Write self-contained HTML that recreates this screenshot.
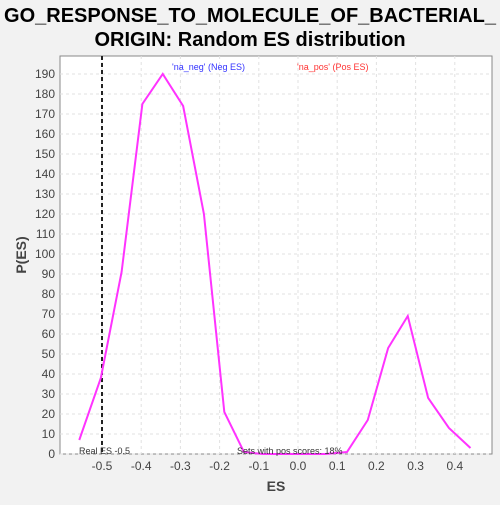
<!DOCTYPE html>
<html><head><meta charset="utf-8"><style>
body{margin:0;background:#f2f2f2;font-family:"Liberation Sans","DejaVu Sans",sans-serif}
</style></head><body>
<svg width="500" height="500" xmlns="http://www.w3.org/2000/svg">
<rect width="500" height="500" fill="#f2f2f2"/>
<text x="250" y="22" text-anchor="middle" font-size="20" font-weight="bold" fill="#000">GO_RESPONSE_TO_MOLECULE_OF_BACTERIAL_</text>
<text x="250" y="46" text-anchor="middle" font-size="20" font-weight="bold" fill="#000">ORIGIN: Random ES distribution</text>
<rect x="60" y="56" width="432" height="398" fill="#fff" stroke="#888"/>
<g id="grid"></g><g id="ticks"></g>
<line x1="102" y1="56" x2="102" y2="454" stroke="#222" stroke-width="2" stroke-dasharray="4,3"/>
<polyline id="curve" fill="none" stroke="#ff33ff" stroke-width="2"/>
<text x="172" y="70" font-size="9" fill="#3333ff">'na_neg' (Neg ES)</text>
<text x="297" y="70" font-size="9" fill="#ff3333">'na_pos' (Pos ES)</text>
<text x="79" y="454" font-size="9" fill="#333">Real ES -0.5</text>
<text x="237" y="454" font-size="9" fill="#333">Sets with pos scores: 18%</text>
<text x="276" y="491" font-size="14" font-weight="bold" fill="#444" text-anchor="middle">ES</text>
<text transform="translate(26,255) rotate(-90)" font-size="14" font-weight="bold" fill="#444" text-anchor="middle">P(ES)</text>
</svg>
<script>
const esValues=[-0.558,-0.503,-0.45,-0.397,-0.345,-0.293,-0.24,-0.188,-0.138,-0.09,-0.035,0.02,0.07,0.125,0.178,0.23,0.28,0.332,0.385,0.44];
const pValues=[7,38,91,175,190,174,120,21,1,0,0,0,0,1,17,53,69,28,13,3];
const xTicks=[-0.5,-0.4,-0.3,-0.2,-0.1,0.0,0.1,0.2,0.3,0.4];
const yTicks=[0,10,20,30,40,50,60,70,80,90,100,110,120,130,140,150,160,170,180,190];
const NS="http://www.w3.org/2000/svg";
function sx(v){return 298+v*392;}
function sy(v){return 454-v*2;}
const grid=document.getElementById('grid'),ticks=document.getElementById('ticks');
function mk(tag,attrs,parent){const e=document.createElementNS(NS,tag);for(const k in attrs)e.setAttribute(k,attrs[k]);parent.appendChild(e);return e;}
xTicks.forEach(t=>{
 const l=mk('line',{x1:sx(t),x2:sx(t),y1:56,y2:454,stroke:'#e2e2e2','stroke-dasharray':'3,3'},grid);
 
 
 const tx=mk('text',{x:sx(t),y:470,'font-size':12,fill:'#444','text-anchor':'middle'},ticks);
 tx.textContent=t.toFixed(1);
 
 
});
yTicks.forEach(t=>{
 const l=mk('line',{x1:60,x2:492,y1:sy(t),y2:sy(t),stroke:'#e2e2e2','stroke-dasharray':'3,3'},grid);
 
 
 const tx=mk('text',{x:55,y:sy(t)+4,'font-size':12,fill:'#444','text-anchor':'end'},ticks);
 tx.textContent=t;
 
 
});
document.getElementById('curve').setAttribute('points',esValues.map((v,i)=>sx(v)+','+sy(pValues[i])).join(' '));
</script>
</body></html>
